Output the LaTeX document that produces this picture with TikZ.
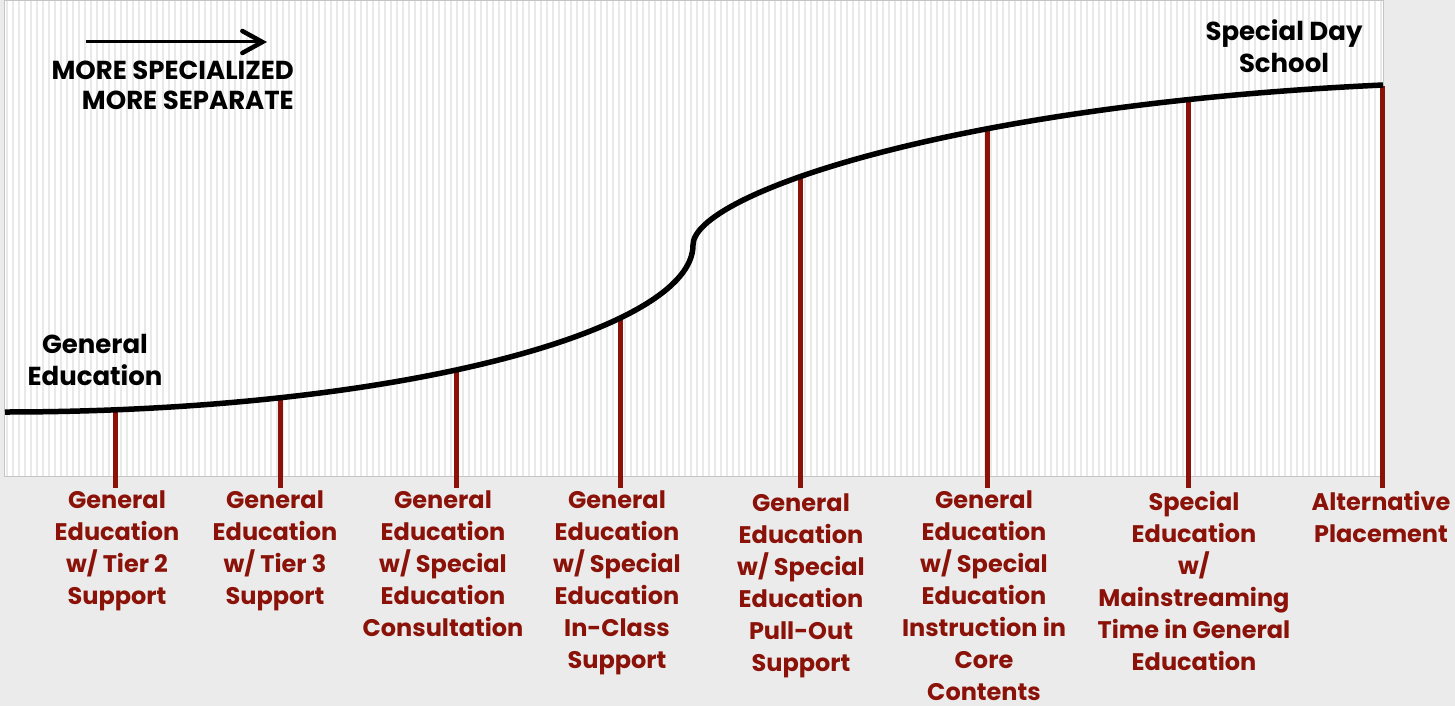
\documentclass[tikz,border=0pt]{standalone}
\usepackage{fontspec}
\setmainfont{Poppins}
\usetikzlibrary{arrows.meta}
\definecolor{bg}{HTML}{EBEBEB}
\definecolor{stripe}{HTML}{E9E9E9}
\definecolor{frame}{HTML}{C4C4C4}
\definecolor{dred}{RGB}{138,18,8}
\begin{document}
\begin{tikzpicture}[x=1pt,y=-1pt,
  redlab/.style={text=dred,font=\bfseries\fontsize{24}{32}\selectfont,align=center,anchor=north,inner sep=0pt},
  blklab/.style={text=black,font=\bfseries\fontsize{26}{32}\selectfont,align=center,inner sep=0pt},
  redline/.style={draw=dred,line width=5pt},
  curve/.style={draw=black,line width=5.5pt}]
\useasboundingbox (0,0) rectangle (1455,706);
\fill[bg] (0,0) rectangle (1455,706);
\fill[white] (4,1) rectangle (1383,476);
\foreach \i in {0,...,229} {\draw[stripe,line width=2.2pt] (7+6*\i,1) -- (7+6*\i,476);}
\draw[frame,line width=1pt] (4,1) rectangle (1383,476);
% tops and bottoms
\foreach \n/\x/\y in {1/115/410,2/280/397,3/456/369,4/620/318,5/800/175,6/987/130,7/1188/101,8/1382/86} {
  \coordinate (t\n) at (\x,\y);
  \coordinate (b\n) at (\x,488);
  \draw[redline] (t\n) -- (b\n);
}
% curve
\coordinate (c0) at (5,412);
\coordinate (cm) at (693,245);
\coordinate (c1) at (1383,85);
\draw[curve] (c0) .. controls (400,412) and (693,330) .. (cm)
  .. controls (693,195) and (950,105) .. (c1);
% labels
\node[redlab] (l1) at (117,491) {General\\Education\\w/ Tier 2\\Support};
\node[redlab] (l2) at (275,491) {General\\Education\\w/ Tier 3\\Support};
\node[redlab] (l3) at (443,491) {General\\Education\\w/ Special\\Education\\Consultation};
\node[redlab] (l4) at (617,491) {General\\Education\\w/ Special\\Education\\In-Class\\Support};
\node[redlab] (l5) at (801,494) {General\\Education\\w/ Special\\Education\\Pull-Out\\Support};
\node[redlab] (l6) at (984,491) {General\\Education\\w/ Special\\Education\\Instruction in\\Core\\Contents};
\node[redlab] (l7) at (1194,491) {Special\\Education\\w/\\Mainstreaming\\Time in General\\Education};
\node[redlab] (l8) at (1381,491) {Alternative\\Placement};
% black labels
\node[blklab] (ge) at (95,360) {General\\Education};
\node[blklab] (sds) at (1284,46) {Special Day\\School};
\node[blklab,font=\bfseries\fontsize{26}{30}\selectfont,align=right,anchor=north east] (ms) at (294,61) {MORE SPECIALIZED\\MORE SEPARATE};
\coordinate (a1) at (86,42);
\coordinate (a2) at (267,42);
\draw[line width=3pt,-{Straight Barb[length=20pt,width=22pt,line width=4.5pt,line cap=round]}] (a1) -- (a2);
\end{tikzpicture}
\end{document}
